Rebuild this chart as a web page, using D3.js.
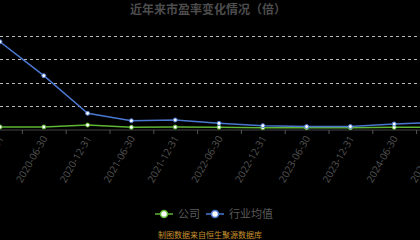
<!DOCTYPE html>
<html>
<head>
<meta charset="utf-8">
<script src="https://cdn.jsdelivr.net/npm/d3@7"></script>
<style>
  html, body { margin: 0; padding: 0; background: #000; }
  svg { display: block; }
</style>
</head>
<body>
<script>
// data
var dates = ["2019-12-31", "2020-06-30", "2020-12-31", "2021-06-30", "2021-12-31",
             "2022-06-30", "2022-12-31", "2023-06-30", "2023-12-31", "2024-06-30", "2024-12-31"];
var company = [2.2, 2.2, 3.8, 1.9, 2.1, 2.0, 1.6, 1.6, 1.6, 1.9, 2.0];
var industry = [75, 46, 13.8, 7.5, 8.1, 5.3, 3.3, 2.5, 2.5, 4.7, 6.0];
var gridTicks = [0, 20, 40, 60, 80];

var W = 420, H = 240;
var svg = d3.select("body").append("svg").attr("width", W).attr("height", H);
svg.append("rect").attr("width", W).attr("height", H).attr("fill", "#000");

var step = 43.8;
var x = d3.scaleBand().domain(dates).range([-step / 2, -step / 2 + step * dates.length]);
var y = d3.scaleLinear().domain([0, 80]).range([129.5, 35.9]);
var cx = function (d) { return x(d) + x.bandwidth() / 2; };

svg.append("text")
  .attr("x", 208).attr("y", 14)
  .attr("text-anchor", "middle")
  .attr("font-family", "Noto Sans CJK SC")
  .attr("font-size", 12).attr("font-weight", "bold")
  .attr("fill", "#4d4d4d")
  .text("近年来市盈率变化情况（倍）");

// grid
svg.append("g").selectAll("line")
  .data(gridTicks.slice(1)).enter().append("line")
  .attr("x1", 0).attr("x2", W)
  .attr("y1", function (d) { return Math.round(y(d)) + 0.5; })
  .attr("y2", function (d) { return Math.round(y(d)) + 0.5; })
  .attr("stroke", "#bbb").attr("stroke-dasharray", "3,3");

// x axis (ticks sit at band centres)
var xAxis = d3.axisBottom(x).tickSize(0).tickPadding(0);
var gx = svg.append("g").attr("transform", "translate(0," + 129.5 + ")").call(xAxis);
gx.select(".domain").attr("stroke", "#444");
gx.selectAll(".tick line").remove();
gx.selectAll(".tick text")
  .attr("font-family", "Open Sans")
  .attr("font-size", 10)
  .attr("fill", "#555")
  .attr("text-anchor", "end")
  .attr("transform", "translate(1,7) rotate(-60)")
  .attr("dy", "0.35em").attr("y", 0);
// boundary tick marks
svg.append("g").selectAll("line")
  .data(dates).enter().append("line")
  .attr("x1", function (d) { return x(d) + 0.5; })
  .attr("x2", function (d) { return x(d) + 0.5; })
  .attr("y1", 130).attr("y2", 134)
  .attr("stroke", "#555");

var line = d3.line().x(function (d, i) { return cx(dates[i]); }).y(function (d) { return y(d); });

function series(vals, color) {
  svg.append("path").datum(vals)
    .attr("d", line).attr("fill", "none")
    .attr("stroke", color).attr("stroke-width", 1.5);
  svg.append("g").selectAll("circle")
    .data(vals).enter().append("circle")
    .attr("cx", function (d, i) { return cx(dates[i]); })
    .attr("cy", function (d) { return y(d); })
    .attr("r", 2).attr("fill", "#fff")
    .attr("stroke", color).attr("stroke-width", 1);
}
series(company, "#5fb534");
series(industry, "#4a78d0");

// legend
var legend = [{ name: "公司", color: "#5fb534", x: 155 }, { name: "行业均值", color: "#4a78d0", x: 206 }];
var lg = svg.append("g").selectAll("g").data(legend).enter().append("g")
  .attr("transform", function (d) { return "translate(" + d.x + ",214)"; });
lg.append("line").attr("x1", 0).attr("x2", 18).attr("y1", 0).attr("y2", 0)
  .attr("stroke", function (d) { return d.color; }).attr("stroke-width", 1.5);
lg.append("circle").attr("cx", 9).attr("cy", 0).attr("r", 3.5)
  .attr("fill", "#fff").attr("stroke", function (d) { return d.color; }).attr("stroke-width", 1.5);
lg.append("text").attr("x", 23).attr("y", 4)
  .attr("font-family", "Noto Sans CJK SC").attr("font-size", 11)
  .attr("fill", "#5a5a5a")
  .text(function (d) { return d.name; });

svg.append("text")
  .attr("x", 210).attr("y", 238)
  .attr("text-anchor", "middle")
  .attr("font-family", "Noto Sans CJK SC").attr("font-size", 8)
  .attr("fill", "#c8922e")
  .text("制图数据来自恒生聚源数据库");
</script>
</body>
</html>
